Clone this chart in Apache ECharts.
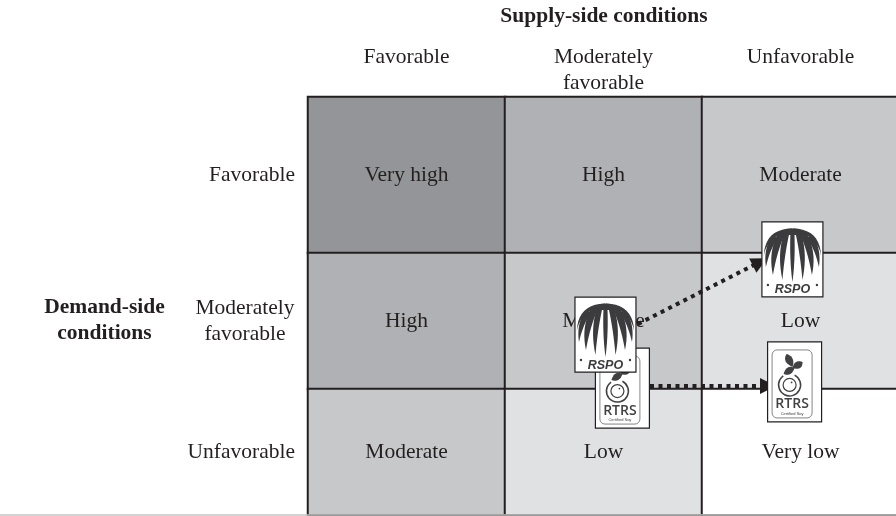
<!DOCTYPE html>
<html><head><meta charset="utf-8">
<style>html,body{margin:0;padding:0;background:#fff}#c{width:896px;height:516px}</style>
<script src="https://cdn.jsdelivr.net/npm/echarts@6/dist/echarts.min.js"></script>
</head><body><div id="c"></div>
<script>
const supplyCategories = ['Favorable', 'Moderately\nfavorable', 'Unfavorable'];
const demandCategories = ['Favorable', 'Moderately\nfavorable', 'Unfavorable'];
const ratingNames = ['Very low', 'Low', 'Moderate', 'High', 'Very high'];
const ratingColors = ['#ffffff', '#e0e1e3', '#c7c8ca', '#b0b1b4', '#949598'];
const rowFavorable = [4, 3, 2];
const rowModerate = [3, 2, 1];
const rowUnfavorable = [2, 1, 0];
const rspoLogos = [[1.51, 1.705], [2.459, 1.166]];
const rtrsLogos = [[1.596, 2.089], [2.47, 2.045]];
const rspoArrow = [[1.675, 1.629], [2.294, 1.184]];
const rtrsArrow = [[1.736, 2.074], [2.335, 2.074]];

const SERIF = '"Liberation Serif","Times New Roman",serif';
const INK = '#231f20';
const FS = 21.5;
const rows = [rowFavorable, rowModerate, rowUnfavorable];
const gridRects = [{top: 97, height: 156}, {top: 253, height: 136}, {top: 389, height: 126}];

const grids = gridRects.map(r => ({left: 308, right: -3, top: r.top, height: r.height, outerBoundsMode: 'none'}));
grids.push({left: 308, right: -3, top: 97, height: 418, outerBoundsMode: 'none'});

const xAxes = rows.map((_, i) => ({
  type: 'category', gridIndex: i, data: supplyCategories, position: 'top',
  axisLine: {show: false}, axisTick: {show: false}, splitLine: {show: false},
  axisLabel: i === 0 ? {show: true, interval: 0, margin: 53, verticalAlign: 'top',
    fontFamily: SERIF, fontSize: FS, lineHeight: 26, color: INK} : {show: false}
}));
xAxes.push({type: 'value', gridIndex: 3, min: 0, max: 3, show: false});

const yAxes = rows.map((_, i) => ({
  type: 'category', gridIndex: i, data: [demandCategories[i]],
  axisLine: {show: false}, axisTick: {show: false}, splitLine: {show: false},
  axisLabel: {show: true, interval: 0, margin: i === 1 ? 63 : 13, align: i === 1 ? 'center' : 'right',
    fontFamily: SERIF, fontSize: FS, lineHeight: 26, color: INK}
}));
yAxes.push({type: 'value', gridIndex: 3, min: 0, max: 3, inverse: true, show: false});

const heat = rows.map((row, i) => ({
  type: 'heatmap', xAxisIndex: i, yAxisIndex: i, z: 2, silent: true,
  data: row.map((v, x) => [x, 0, v]),
  itemStyle: {borderColor: INK, borderWidth: 2},
  label: {show: true, formatter: p => ratingNames[p.value[2]], fontFamily: SERIF, fontSize: FS, color: INK},
  emphasis: {disabled: true}
}));

// logo artwork helpers: a closed leaf-like outline from two quadratic curves
function leaf(a, c1, b, c2, d) {
  const pts = [];
  const q = (p, c, r) => { for (let i = 0; i <= 10; i++) { const t = i / 10, u = 1 - t;
    pts.push([u * u * p[0] + 2 * u * t * c[0] + t * t * r[0], u * u * p[1] + 2 * u * t * c[1] + t * t * r[1]]); } };
  q(a, c1, b); q(b, c2, d);
  return pts;
}
const mirror = pts => pts.map(p => [61 - p[0], p[1]]);
function palmShapes() {
  const left = [
    leaf([22, 11], [15, 32], [20.5, 58], [22.5, 34], [27, 13]),
    leaf([16, 12], [6, 30], [11, 53], [15, 30], [22.5, 13]),
    leaf([9, 16], [1.5, 28], [4, 45], [8, 27], [17, 14]),
    leaf([30, 6.5], [3, 7], [1.8, 34], [5, 14], [30, 8.2])
  ];
  const all = [leaf([28.5, 11], [27.5, 38], [30.5, 60], [33.5, 38], [32.5, 11]),
    leaf([15, 13], [21, 6.5], [30.5, 6.5], [40, 6.5], [46, 13])];
  left.forEach(s => { all.push(s); all.push(mirror(s)); });
  return all;
}
function renderRspo(params, api) {
  const c = api.coord([api.value(0), api.value(1)]);
  const W = 61, H = 75, dark = '#3c3c3e';
  const children = [{type: 'rect', shape: {x: 0, y: 0, width: W, height: H}, style: {fill: '#fff', stroke: INK, lineWidth: 1.2}}];
  palmShapes().forEach(p => children.push({type: 'polygon', shape: {points: p}, style: {fill: dark}}));
  children.push(
    {type: 'circle', shape: {cx: 6, cy: 63, r: 1.2}, style: {fill: dark}},
    {type: 'circle', shape: {cx: 55, cy: 63, r: 1.2}, style: {fill: dark}},
    {type: 'text', style: {text: 'RSPO', x: W / 2, y: 68, align: 'center', verticalAlign: 'middle',
      font: 'italic bold 12.5px "Liberation Sans",sans-serif', fill: dark}}
  );
  return {type: 'group', x: c[0] - W / 2, y: c[1] - H / 2, children};
}
function renderRtrs(params, api) {
  const c = api.coord([api.value(0), api.value(1)]);
  const W = 54, H = 80, gray = '#414143';
  return {type: 'group', x: c[0] - W / 2, y: c[1] - H / 2, children: [
    {type: 'rect', shape: {x: 0, y: 0, width: W, height: H}, style: {fill: '#fff', stroke: INK, lineWidth: 1.2}},
    {type: 'rect', shape: {x: 4.5, y: 8, width: 40, height: 68, r: 5}, style: {fill: 'none', stroke: '#77777a', lineWidth: 0.9}},
    {type: 'polygon', shape: {points: leaf([25, 25], [28, 15], [19, 12], [14, 20], [25, 25])}, style: {fill: gray}},
    {type: 'polygon', shape: {points: leaf([25, 26], [27, 17], [35, 20], [35, 29], [25, 26])}, style: {fill: gray}},
    {type: 'polygon', shape: {points: leaf([27, 26], [19, 22], [16, 32], [24, 35], [27, 26])}, style: {fill: gray}},
    {type: 'arc', shape: {cx: 22, cy: 43, r: 11, startAngle: -1.1, endAngle: 4.1}, style: {fill: 'none', stroke: gray, lineWidth: 1.5}},
    {type: 'circle', shape: {cx: 22, cy: 43, r: 6.5}, style: {fill: 'none', stroke: gray, lineWidth: 1.2}},
    {type: 'circle', shape: {cx: 24, cy: 40.5, r: 0.9}, style: {fill: gray}},
    {type: 'text', style: {text: 'RTRS', x: 24.5, y: 62.5, align: 'center', verticalAlign: 'middle',
      font: '600 14px "Open Sans","Liberation Sans",sans-serif', fill: gray}},
    {type: 'text', style: {text: 'Certified Soy', x: 24.5, y: 72, align: 'center', verticalAlign: 'middle',
      font: '4px "Liberation Sans",sans-serif', fill: gray}}
  ]};
}

const arrowSeries = [rspoArrow, rtrsArrow];
const series = heat.concat([
  {type: 'lines', coordinateSystem: 'cartesian2d', xAxisIndex: 3, yAxisIndex: 3, z: 4, silent: true,
    symbol: ['none', 'triangle'], symbolSize: 16,
    lineStyle: {color: INK, width: 4, type: [4, 4.5], opacity: 1},
    data: arrowSeries.map(a => ({coords: a}))},
  {type: 'custom', coordinateSystem: 'cartesian2d', xAxisIndex: 3, yAxisIndex: 3, z: 5, silent: true, clip: false,
    renderItem: renderRtrs, data: rtrsLogos},
  {type: 'custom', coordinateSystem: 'cartesian2d', xAxisIndex: 3, yAxisIndex: 3, z: 6, silent: true, clip: false,
    renderItem: renderRspo, data: rspoLogos}
]);

const chart = echarts.init(document.getElementById('c'), null, {renderer: 'canvas'});
chart.setOption({
  animation: false,
  backgroundColor: '#fff',
  title: [
    {text: 'Supply-side conditions', left: 604, top: 5, padding: 0, textAlign: 'center',
      textStyle: {fontFamily: SERIF, fontWeight: 'bold', fontSize: 21.5, color: INK}},
    {text: 'Demand-side\nconditions', left: 104.5, top: 294, padding: 0, textAlign: 'center',
      textStyle: {fontFamily: SERIF, fontWeight: 'bold', fontSize: 21.5, lineHeight: 26, color: INK}}
  ],
  grid: grids,
  xAxis: xAxes,
  yAxis: yAxes,
  visualMap: {show: false, type: 'piecewise', dimension: 2, seriesIndex: [0, 1, 2],
    pieces: ratingColors.map((c, i) => ({value: i, color: c}))},
  series,
  graphic: [{type: 'line', z: 100, shape: {x1: 0, y1: 515, x2: 896, y2: 515}, style: {stroke: '#c4c4c4', lineWidth: 1.5}}]
});
</script></body></html>
